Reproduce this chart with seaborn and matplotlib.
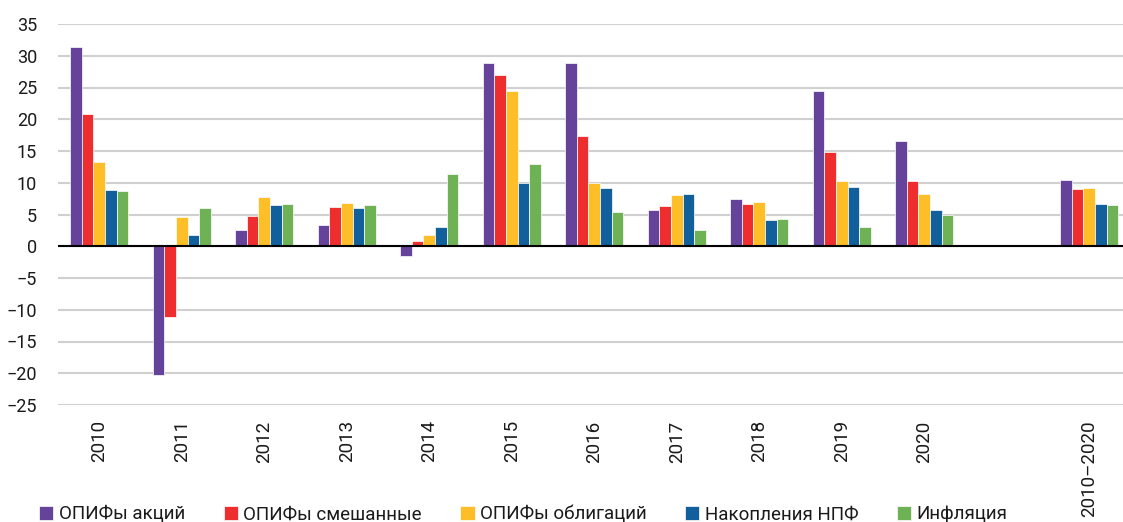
import seaborn as sns
import numpy as np
import matplotlib.pyplot as plt
import pandas as pd

periods = ['2010', '2011', '2012', '2013', '2014', '2015', '2016',
           '2017', '2018', '2019', '2020', ' ', '2010–2020']
series = ['ОПИФы акций', 'ОПИФы смешанные', 'ОПИФы облигаций',
          'Накопления НПФ', 'Инфляция']
# values per period (the blank slot has no data)
data_periods = ['2010', '2011', '2012', '2013', '2014', '2015', '2016',
                '2017', '2018', '2019', '2020', '2010–2020']
opif_stocks = [31.3, -20.3, 2.5, 3.3, -1.6, 28.9, 28.9, 5.7, 7.5, 24.4, 16.5, 10.4]
opif_mixed = [20.8, -11.2, 4.8, 6.2, 0.9, 27.0, 17.3, 6.3, 6.6, 14.8, 10.3, 9.0]
opif_bonds = [13.2, 4.6, 7.7, 6.8, 1.7, 24.5, 10.0, 8.0, 6.9, 10.2, 8.3, 9.1]
npf = [8.9, 1.8, 6.5, 6.0, 3.1, 10.0, 9.2, 8.3, 4.1, 9.3, 5.7, 6.6]
inflation = [8.7, 6.0, 6.6, 6.5, 11.4, 12.9, 5.4, 2.5, 4.3, 3.0, 4.9, 6.5]
colors = ['#65439A', '#EE2E2E', '#FDBE28', '#12609B', '#6FB155']

df = pd.DataFrame({
    'period': data_periods,
    series[0]: opif_stocks,
    series[1]: opif_mixed,
    series[2]: opif_bonds,
    series[3]: npf,
    series[4]: inflation,
})
df_melted = pd.melt(df, id_vars=['period'], var_name='series', value_name='value')

sns.set_theme(style='white')
plt.rcParams['font.family'] = ['Roboto', 'DejaVu Sans']

fig = plt.figure(figsize=(11.23, 5.22), dpi=100)
ax = fig.add_axes([58 / 1123, 1 - 405 / 522, 1072.5 / 1123, 381 / 522])

sns.barplot(data=df_melted, x='period', y='value', hue='series',
            order=periods, hue_order=series, palette=colors, saturation=1,
            width=0.7, gap=0, edgecolor='white', linewidth=0.5,
            errorbar=None, ax=ax)

ax.set_ylim(-25, 35)
ax.set_yticks(range(-25, 36, 5))
ax.set_xlim(-0.5, len(periods) - 0.5)
ax.set_xlabel('')
ax.set_ylabel('')
ax.yaxis.grid(True, color='#d0d0d0', linewidth=1.5)
ax.set_axisbelow(True)
ax.axhline(0, color='black', linewidth=1.5)
for s in ax.spines.values():
    s.set_visible(False)

ax.tick_params(axis='y', length=0, pad=15, labelsize=13, labelcolor='#1a1a1a')
ax.tick_params(axis='x', length=0, pad=11, labelsize=13.5, labelcolor='#1a1a1a')
plt.setp(ax.get_xticklabels(), rotation=90, va='top', ha='center')

handles, labels = ax.get_legend_handles_labels()
ax.get_legend().remove()
fig.legend(handles, labels, loc='lower left', bbox_to_anchor=(0.02, -0.035),
           ncol=5, frameon=False, fontsize=13.5, handlelength=0.75,
           handleheight=0.75, handletextpad=0.3, columnspacing=2.05,
           labelcolor='#1a1a1a')

plt.savefig('out.png', dpi=100)
